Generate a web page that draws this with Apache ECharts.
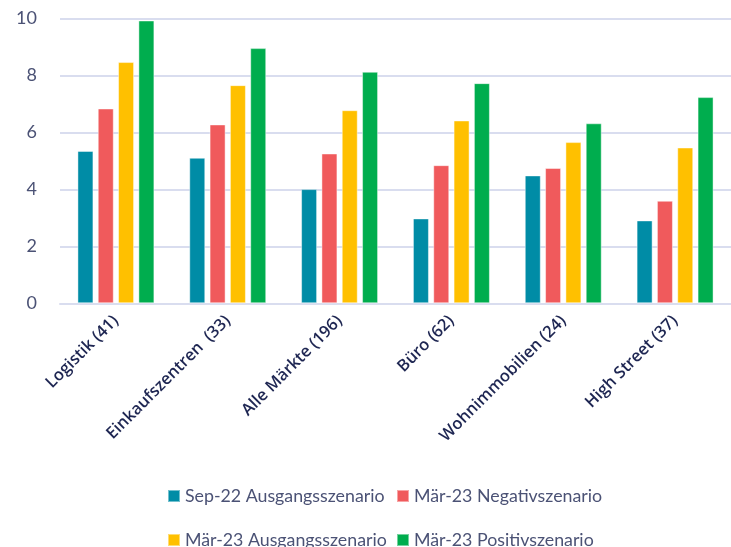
<!DOCTYPE html>
<html>
<head>
<meta charset="utf-8">
<script src="https://cdn.jsdelivr.net/npm/echarts@6/dist/echarts.min.js"></script>
<style>
  html, body { margin: 0; padding: 0; background: #ffffff; }
  #chart { width: 731px; height: 547px; }
</style>
</head>
<body>
<div id="chart"></div>
<script>
// Sektoren mit Anzahl der Märkte
const categories = ['Logistik (41)', 'Einkaufszentren  (33)', 'Alle Märkte (196)', 'Büro (62)', 'Wohnimmobilien (24)', 'High Street (37)'];

const seriesNames = ['Sep-22 Ausgangsszenario', 'Mär-23 Negativszenario', 'Mär-23 Ausgangsszenario', 'Mär-23 Positivszenario'];

const sep22Base = [5.35, 5.11, 4.01, 2.98, 4.49, 2.91];
const mar23Negative = [6.84, 6.28, 5.26, 4.85, 4.75, 3.60];
const mar23Base = [8.47, 7.66, 6.78, 6.42, 5.66, 5.47];
const mar23Positive = [9.93, 8.96, 8.13, 7.73, 6.32, 7.24];

const yTicks = [0, 2, 4, 6, 8, 10];

const colors = ['#008ca6', '#f05a5c', '#ffc000', '#00ad4e'];
const values = [sep22Base, mar23Negative, mar23Base, mar23Positive];

const chart = echarts.init(document.getElementById('chart'), null, { renderer: 'canvas' });

const legendPos = [
  { left: 162, top: 482 },
  { left: 391, top: 482 },
  { left: 162, top: 526 },
  { left: 391, top: 526 }
];

chart.setOption({
  animation: false,
  color: colors,
  grid: { left: 60, right: 0, top: 18.5, bottom: 243.7, containLabel: false },
  legend: seriesNames.map((name, i) => ({
    data: [name],
    left: legendPos[i].left,
    top: legendPos[i].top,
    itemWidth: 12,
    itemHeight: 12,
    icon: 'rect',
    textStyle: { fontFamily: 'Lato', fontSize: 17.8, color: '#4b5275', padding: [0, 0, 0, 0] }
  })),
  xAxis: {
    type: 'category',
    data: categories,
    axisLine: { lineStyle: { color: '#d9ddef', width: 2 } },
    axisTick: { show: false },
    axisLabel: {
      interval: 0,
      rotate: 45,
      margin: 15,
      fontFamily: 'Open Sans',
      fontWeight: 600,
      fontSize: 16.5,
      color: '#1e2652'
    }
  },
  yAxis: {
    type: 'value',
    min: 0,
    max: 10,
    interval: 2,
    axisLine: { show: false },
    axisTick: { show: false },
    splitLine: { lineStyle: { color: '#d9ddef', width: 2 } },
    axisLabel: {
      margin: 23,
      fontFamily: 'Lato',
      fontSize: 18,
      color: '#4b5275',
      formatter: v => (yTicks.includes(v) ? String(v) : '')
    }
  },
  series: seriesNames.map((name, i) => ({
    name: name,
    type: 'bar',
    data: values[i],
    barWidth: 16,
    barGap: '27%',
    itemStyle: { color: colors[i], borderColor: 'rgba(255,255,255,0.45)', borderWidth: 1 }
  }))
});
</script>
</body>
</html>
